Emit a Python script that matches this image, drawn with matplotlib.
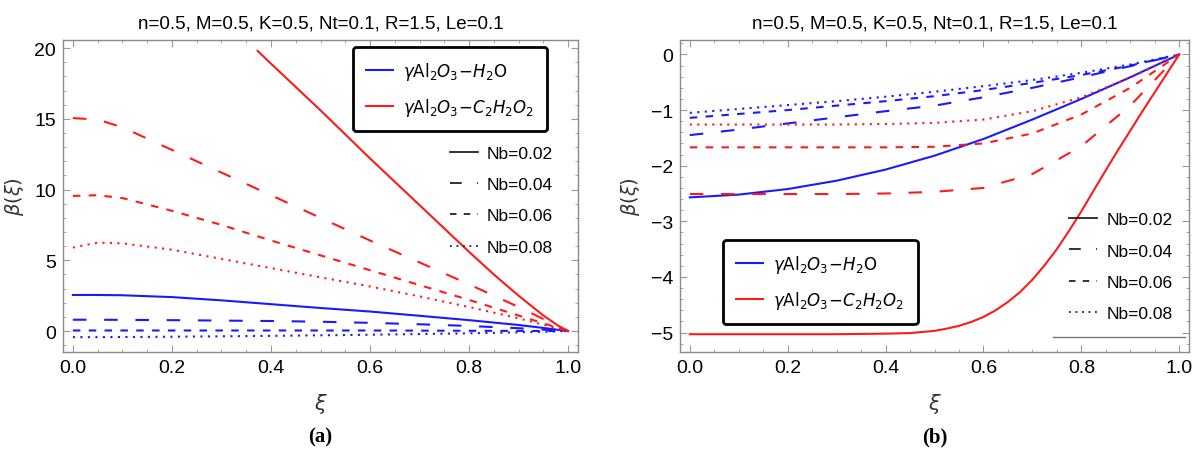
import matplotlib
matplotlib.use('Agg')
import matplotlib.pyplot as plt
from matplotlib.lines import Line2D
from matplotlib.ticker import MultipleLocator

plt.rcParams['font.family'] = ['Liberation Sans', 'DejaVu Sans']
plt.rcParams['mathtext.fontset'] = 'dejavusans'

title = "n=0.5, M=0.5, K=0.5, Nt=0.1, R=1.5, Le=0.1"
nb_labels = ['Nb=0.02', 'Nb=0.04', 'Nb=0.06', 'Nb=0.08']
fluid_labels = [r'$\gamma\mathrm{Al}_2O_3\!-\!H_2\mathrm{O}$',
                r'$\gamma\mathrm{Al}_2O_3\!-\!C_2H_2O_2$']
captions = ['(a)', '(b)']

# ---------------- panel (a) ----------------
xa = [0, 0.05, 0.1, 0.2, 0.3, 0.4, 0.5, 0.6, 0.7, 0.8, 0.9, 0.95, 1.0]
a_blue_002 = [2.55, 2.55, 2.53, 2.40, 2.17, 1.90, 1.63, 1.38, 1.08, 0.77, 0.43, 0.22, 0.0]
a_blue_004 = [0.80, 0.80, 0.79, 0.77, 0.74, 0.71, 0.66, 0.58, 0.48, 0.36, 0.20, 0.10, 0.0]
a_blue_006 = [0.04, 0.04, 0.04, 0.04, 0.04, 0.04, 0.04, 0.04, 0.03, 0.02, 0.01, 0.005, 0.0]
a_blue_008 = [-0.43, -0.43, -0.42, -0.40, -0.37, -0.34, -0.30, -0.26, -0.21, -0.16, -0.09, -0.05, 0.0]
a_red_004 = [15.05, 14.95, 14.4, 12.8, 11.2, 9.6, 8.0, 6.4, 4.85, 3.3, 1.7, 0.85, 0.0]
a_red_006 = [9.55, 9.6, 9.4, 8.5, 7.5, 6.4, 5.35, 4.3, 3.25, 2.2, 1.1, 0.55, 0.0]
a_red_008 = [5.9, 6.25, 6.2, 5.75, 5.1, 4.45, 3.8, 3.15, 2.45, 1.7, 0.9, 0.45, 0.0]
xa_red_002 = [0.373, 0.4, 0.5, 0.6, 0.7, 0.8, 0.85, 0.9, 0.95, 0.98, 1.0]
a_red_002 = [19.8, 18.9, 15.6, 12.2, 8.9, 5.6, 4.0, 2.5, 1.1, 0.38, 0.0]

# ---------------- panel (b) ----------------
xb = [0, 0.1, 0.2, 0.3, 0.4, 0.5, 0.6, 0.7, 0.8, 0.9, 1.0]
b_blue_002 = [-2.57, -2.52, -2.42, -2.27, -2.07, -1.82, -1.52, -1.17, -0.80, -0.41, 0.0]
b_blue_004 = [-1.45, -1.35, -1.24, -1.13, -1.02, -0.92, -0.77, -0.60, -0.41, -0.21, 0.0]
b_blue_006 = [-1.14, -1.07, -1.00, -0.92, -0.84, -0.75, -0.64, -0.51, -0.37, -0.20, 0.0]
b_blue_008 = [-1.05, -0.98, -0.91, -0.84, -0.76, -0.67, -0.57, -0.46, -0.33, -0.18, 0.0]
b_red_004 = [-2.51, -2.51, -2.51, -2.51, -2.50, -2.47, -2.40, -2.15, -1.65, -0.92, 0.0]
b_red_006 = [-1.67, -1.67, -1.67, -1.67, -1.67, -1.66, -1.60, -1.42, -1.08, -0.60, 0.0]
b_red_008 = [-1.26, -1.26, -1.26, -1.26, -1.25, -1.23, -1.17, -1.02, -0.77, -0.42, 0.0]
xb_red_002 = [0, 0.1, 0.2, 0.3, 0.4, 0.45, 0.5, 0.525, 0.55, 0.575, 0.6, 0.625, 0.65, 0.675,
              0.7, 0.725, 0.75, 0.775, 0.8, 0.825, 0.85, 0.875, 0.9, 0.925, 0.95, 0.975, 1.0]
b_red_002 = [-5.03, -5.03, -5.03, -5.03, -5.02, -5.01, -4.97, -4.93, -4.88, -4.81, -4.72, -4.60,
             -4.45, -4.27, -4.05, -3.79, -3.50, -3.17, -2.82, -2.45, -2.08, -1.72, -1.37, -1.02,
             -0.68, -0.34, 0.0]

BLUE = '#1a1aff'
RED = '#ff1a1a'
LW = 1.5
styles = ['-', (0, (6.5, 8.5)), (0, (3.6, 4.0)), (0, (1.0, 2.6))]

fig = plt.figure(figsize=(12, 4.52), dpi=100)
axa = fig.add_axes([63/1200, 99/452, 515/1200, 312/452])
axb = fig.add_axes([680/1200, 99/452, 509/1200, 312/452])


def style_axes(ax):
    for s in ax.spines.values():
        s.set_color('#8a8a8a')
        s.set_linewidth(1.0)
    ax.tick_params(which='both', direction='in', top=True, right=True,
                   color='#9a9a9a', labelsize=14, pad=5)
    ax.tick_params(which='major', length=5, width=0.8)
    ax.tick_params(which='minor', length=2.5, width=0.6)
    ax.xaxis.set_major_locator(MultipleLocator(0.2))
    ax.xaxis.set_minor_locator(MultipleLocator(0.05))
    ax.xaxis.set_major_formatter(matplotlib.ticker.FormatStrFormatter('%.1f'))
    ax.set_xlim(-0.02, 1.02)
    ax.set_title(title, fontsize=13.5, pad=9)
    ax.set_ylabel(r'$\beta(\xi)$', fontsize=14, color='#333333', labelpad=6)


# panel a
blue_a = [a_blue_002, a_blue_004, a_blue_006, a_blue_008]
red_a = [a_red_004, a_red_006, a_red_008]
for y, ls in zip(blue_a, styles):
    axa.plot(xa, y, color=BLUE, lw=LW, linestyle=ls)
axa.plot(xa_red_002, a_red_002, color=RED, lw=LW, linestyle=styles[0])
for y, ls in zip(red_a, styles[1:]):
    axa.plot(xa, y, color=RED, lw=LW, linestyle=ls)
style_axes(axa)
axa.set_ylim(-1.48, 20.57)
axa.yaxis.set_major_locator(MultipleLocator(5))
axa.yaxis.set_minor_locator(MultipleLocator(1))

# panel b
blue_b = [b_blue_002, b_blue_004, b_blue_006, b_blue_008]
red_b = [b_red_004, b_red_006, b_red_008]
for y, ls in zip(blue_b, styles):
    axb.plot(xb, y, color=BLUE, lw=LW, linestyle=ls)
axb.plot(xb_red_002, b_red_002, color=RED, lw=LW, linestyle=styles[0])
for y, ls in zip(red_b, styles[1:]):
    axb.plot(xb, y, color=RED, lw=LW, linestyle=ls)
style_axes(axb)
axb.set_ylim(-5.35, 0.26)
axb.yaxis.set_major_locator(MultipleLocator(1))
axb.yaxis.set_minor_locator(MultipleLocator(0.2))
axb.yaxis.set_major_formatter(matplotlib.ticker.FuncFormatter(
    lambda v, p: ('%d' % round(v)).replace('-', '\u2212')))


def add_legends(ax, fluid_anchor, nb_anchor):
    fh = [Line2D([], [], color=BLUE, lw=LW), Line2D([], [], color=RED, lw=LW)]
    leg1 = ax.legend(fh, fluid_labels, loc='upper left', bbox_to_anchor=fluid_anchor,
                     borderaxespad=0, fontsize=12, handlelength=1.6, handletextpad=0.6,
                     labelspacing=0.8, borderpad=0.8, fancybox=True, framealpha=1,
                     edgecolor='black')
    leg1.get_frame().set_linewidth(2.0)
    ax.add_artist(leg1)
    nh = [Line2D([], [], color='#222222', lw=1.3, linestyle=ls) for ls in styles]
    ax.legend(nh, nb_labels, loc='upper left', bbox_to_anchor=nb_anchor, frameon=False,
              borderaxespad=0, borderpad=0, fontsize=12.5, handlelength=1.6,
              handletextpad=0.55, labelspacing=0.92)


add_legends(axa, (0.563, 0.978), (0.751, 0.66))
add_legends(axb, (0.0845, 0.359), (0.764, 0.448))
axb.plot([0.733, 0.992], [0.048, 0.048], transform=axb.transAxes, color='#777777', lw=1.0)

for ax, cap in zip([axa, axb], captions):
    pos = ax.get_position()
    cx = (pos.x0 + pos.x1) / 2
    fig.text(cx, 1 - 404/452, r'$\xi$', ha='center', va='center', fontsize=15, color='#333333')
    fig.text(cx, 1 - 437/452, cap, ha='center', va='center', fontsize=15,
             family='Liberation Serif', fontweight='bold')

fig.savefig('out.png', dpi=100)
